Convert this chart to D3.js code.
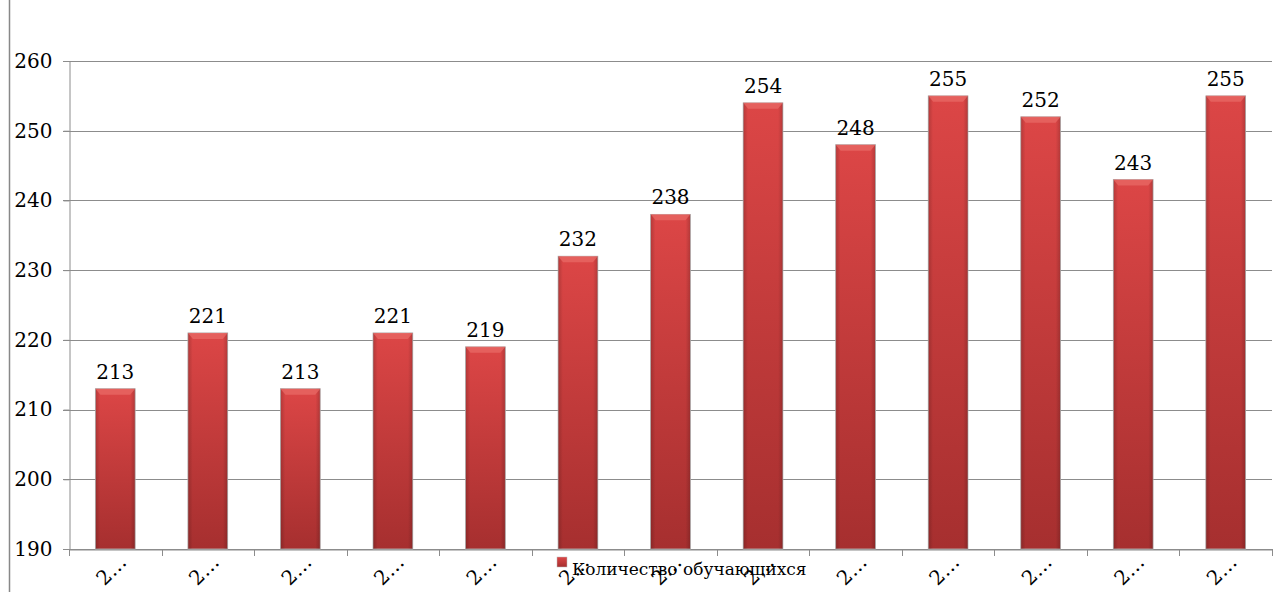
<!DOCTYPE html>
<html><head><meta charset="utf-8">
<script src="https://cdn.jsdelivr.net/npm/d3@7"></script>
<style>html,body{margin:0;padding:0;background:#fff;}svg{display:block;}</style>
</head><body>
<script>
const categories = ["2…","2…","2…","2…","2…","2…","2…","2…","2…","2…","2…","2…","2…"];
const values = [213,221,213,221,219,232,238,254,248,255,252,243,255];
const yTicks = [190,200,210,220,230,240,250,260];
const seriesName = "Количество обучающихся";

const W = 1282, H = 592;
const m = {left:69, right:10, top:61, bottom:43};
const font = "'DejaVu Serif', 'Liberation Serif', Times, serif";
const svg = d3.select("body").append("svg").attr("width",W).attr("height",H)
  .style("font-family",font);

const defs = svg.append("defs");
const gv = defs.append("linearGradient").attr("id","gv").attr("x1",0).attr("y1",0).attr("x2",0).attr("y2",1);
gv.append("stop").attr("offset","0%").attr("stop-color","#dc4646");
gv.append("stop").attr("offset","100%").attr("stop-color","#a62f2f");
const gh = defs.append("linearGradient").attr("id","gh").attr("x1",0).attr("y1",0).attr("x2",1).attr("y2",0);
gh.append("stop").attr("offset","0%").attr("stop-color","#000").attr("stop-opacity",0.18);
gh.append("stop").attr("offset","12%").attr("stop-color","#000").attr("stop-opacity",0);
gh.append("stop").attr("offset","88%").attr("stop-color","#000").attr("stop-opacity",0);
gh.append("stop").attr("offset","100%").attr("stop-color","#000").attr("stop-opacity",0.18);

const x = d3.scaleBand().domain(d3.range(categories.length)).range([m.left, W-m.right]).paddingInner(0).paddingOuter(0);
const y = d3.scaleLinear().domain([190,260]).range([H-m.bottom, m.top]);

svg.append("line").attr("x1",9.5).attr("x2",9.5).attr("y1",0).attr("y2",H).attr("stroke","#888").attr("stroke-width",1.5);

svg.append("g").selectAll("line").data(yTicks).join("line")
  .attr("x1",m.left-6).attr("x2",W-m.right)
  .attr("y1",d=>Math.round(y(d))+0.5).attr("y2",d=>Math.round(y(d))+0.5)
  .attr("stroke","#8c8c8c").attr("stroke-width",1);

const yAxis = svg.append("g").attr("transform",`translate(${m.left+0.5},0)`)
  .call(d3.axisLeft(y).tickValues(yTicks).tickSize(6).tickPadding(11));
yAxis.attr("font-family",null).attr("font-size",null);
yAxis.select(".domain").attr("stroke","#8c8c8c");
yAxis.selectAll(".tick line").attr("stroke","#8c8c8c");
yAxis.selectAll("text").attr("fill","#000").style("font-size","20px").style("font-family",font);

const xAxis = svg.append("g").attr("transform",`translate(0,${Math.round(y(190))+0.5})`)
  .call(d3.axisBottom(x).tickSize(0).tickFormat(""));
xAxis.select(".domain").attr("stroke","#8c8c8c");
svg.append("g").selectAll("line").data(d3.range(categories.length+1)).join("line")
  .attr("x1",i=>Math.round(m.left + i*x.step())+0.5).attr("x2",i=>Math.round(m.left + i*x.step())+0.5)
  .attr("y1",y(190)).attr("y2",y(190)+7).attr("stroke","#8c8c8c");

const bw = x.bandwidth()*0.43;
const bars = svg.append("g").selectAll("g").data(values).join("g");
bars.append("rect")
  .attr("x",(d,i)=>x(i)+x.bandwidth()/2-bw/2).attr("width",bw)
  .attr("y",d=>y(d)).attr("height",d=>y(190)-y(d))
  .attr("fill","url(#gv)").attr("stroke","#b8b8b8").attr("stroke-width",0.8);
bars.append("rect")
  .attr("x",(d,i)=>x(i)+x.bandwidth()/2-bw/2).attr("width",bw)
  .attr("y",d=>y(d)).attr("height",d=>y(190)-y(d))
  .attr("fill","url(#gh)");
bars.append("path")
  .attr("d",(d,i)=>{const x0=x(i)+x.bandwidth()/2-bw/2, y0=y(d);
    return `M${x0},${y0}L${x0+bw},${y0}L${x0+bw-5},${y0+6}L${x0+5},${y0+6}Z`;})
  .attr("fill","#e86a66").attr("opacity",0.75);

svg.append("g").selectAll("text").data(values).join("text")
  .attr("x",(d,i)=>x(i)+x.bandwidth()/2).attr("y",d=>y(d)-10)
  .attr("text-anchor","middle").style("font-size","20px")
  .text(d=>d);

svg.append("g").selectAll("text").data(categories).join("text")
  .attr("transform",(d,i)=>`translate(${x(i)+x.bandwidth()/2-3},${y(190)+22}) rotate(-45)`)
  .attr("text-anchor","middle").attr("dominant-baseline","middle").style("font-size","20px")
  .text(d=>d);

const lg = svg.append("g").attr("transform","translate(557,557)");
lg.append("rect").attr("x",0).attr("y",0).attr("width",10).attr("height",10).attr("fill","url(#gv)").attr("stroke","#bbb").attr("stroke-width",0.5);
lg.append("text").attr("x",15).attr("y",18).style("font-size","17px").text(seriesName);
</script>
</body></html>
